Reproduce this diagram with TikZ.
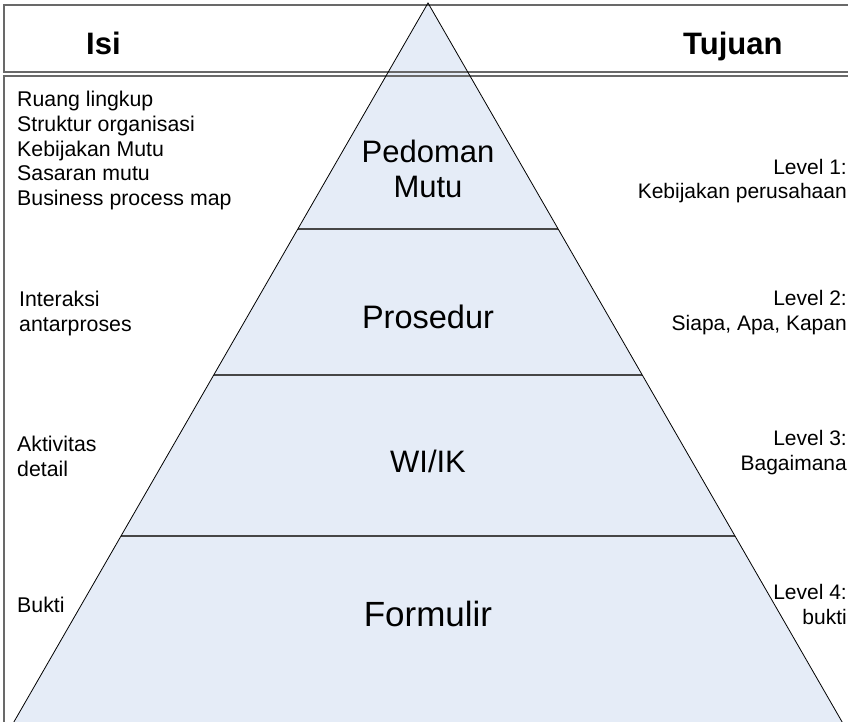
\documentclass[tikz,border=0pt]{standalone}
\usepackage{fontspec}
\setmainfont{Liberation Sans}
\usetikzlibrary{calc}
\definecolor{pyrfill}{RGB}{229,236,247}
\definecolor{framegray}{RGB}{105,105,105}
\definecolor{levelgray}{RGB}{70,70,70}
\tikzset{
  framebox/.style={draw=framegray, line width=1.4pt},
  levelline/.style={draw=levelgray, line width=1.3pt},
  pyredge/.style={draw=black, line width=0.8pt},
  headtext/.style={font=\fontsize{31}{36}\selectfont\bfseries, inner sep=0pt},
  leveltext/.style={font=\fontsize{31}{35}\selectfont, inner sep=0pt, align=center},
  lefttext/.style={font=\fontsize{21.3}{24.5}\selectfont, inner sep=0pt, align=left, anchor=base west},
  righttext/.style={font=\fontsize{21}{24.5}\selectfont, inner sep=0pt, align=right, anchor=base east},
}
\begin{document}
\begin{tikzpicture}[x=1pt,y=-1pt]
\useasboundingbox (0,0) rectangle (848,722);
\clip (0,0) rectangle (848,722);
% pyramid geometry
\coordinate (apex) at (428,3);
\coordinate (bl) at (3.5,740);
\coordinate (br) at (852.5,740);
\fill[pyrfill] (apex) -- (bl) -- (br) -- cycle;
% frames
\draw[framebox] (860,5) -- (4,5) -- (4,72) -- (860,72);
\draw[framebox] (860,76) -- (4,76) -- (4,740);
% level separators
\foreach \yy/\nm in {229/a,375/b,536/c}{
  \coordinate (l\nm) at ($(apex)!{(\yy-3)/737}!(bl)$);
  \coordinate (r\nm) at ($(apex)!{(\yy-3)/737}!(br)$);
  \draw[levelline] (l\nm) -- (r\nm);
}
\draw[pyredge] (bl) -- (apex) -- (br);
% headers
\node[headtext, anchor=base west] (isi) at (86,55) {Isi};
\node[headtext, anchor=base west] (tujuan) at (683,55) {Tujuan};
% level labels (multi-line nodes: base = last baseline)
\node[leveltext, anchor=base] (pedoman) at (428,197) {Pedoman\\Mutu};
\node[leveltext, anchor=base, font=\fontsize{32.5}{35}\selectfont] (prosedur) at (428,328) {Prosedur};
\node[leveltext, anchor=base] (wiik) at (428,472) {WI/IK};
\node[leveltext, anchor=base, font=\fontsize{35}{38}\selectfont] (formulir) at (428,626) {Formulir};
% left content
\node[lefttext] (isi1) at (17,205) {Ruang lingkup\\Struktur organisasi\\Kebijakan Mutu\\Sasaran mutu\\Business process map};
\node[lefttext] (isi2) at (19,331) {Interaksi\\antarproses};
\node[lefttext] (isi3) at (17,476) {Aktivitas\\detail};
\node[lefttext] (isi4) at (17,612) {Bukti};
% right content
\node[righttext] (tuj1) at (847,199) {Level 1:\\Kebijakan perusahaan};
\node[righttext] (tuj2) at (847,330) {Level 2:\\Siapa, Apa, Kapan};
\node[righttext] (tuj3) at (847,470) {Level 3:\\Bagaimana};
\node[righttext] (tuj4) at (847,624) {Level 4:\\bukti};
\end{tikzpicture}
\end{document}
